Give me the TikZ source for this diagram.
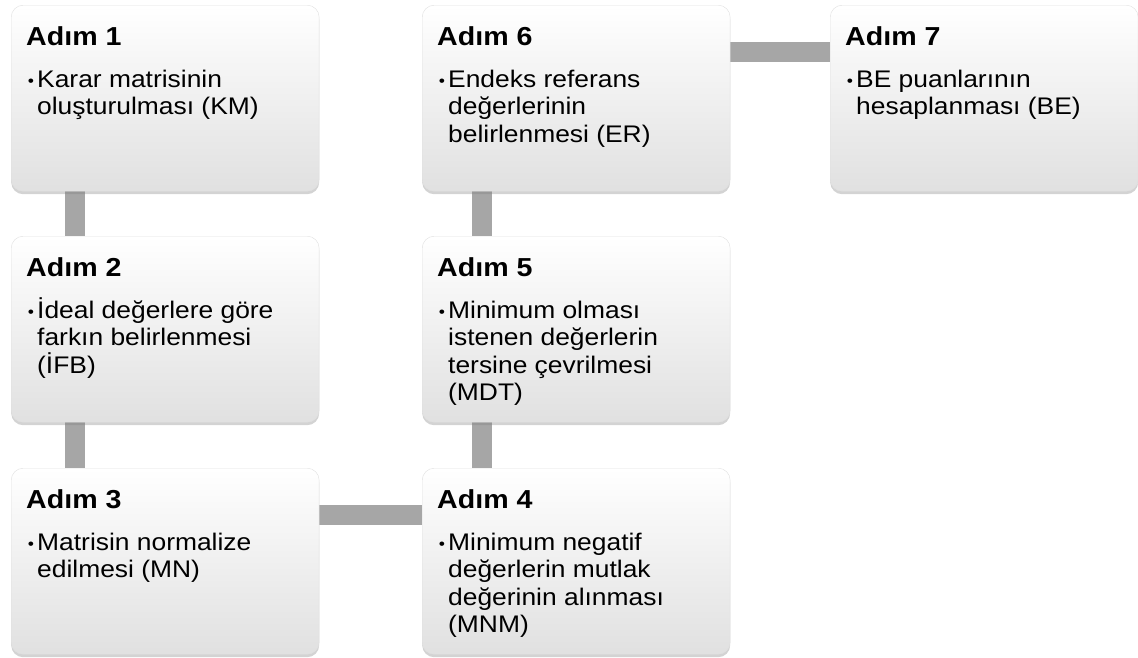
\documentclass[tikz,border=0pt]{standalone}
\usepackage{fontspec}
\setmainfont{Liberation Sans}
\usetikzlibrary{shadows}
\usetikzlibrary{backgrounds}

\tikzset{
  stepbox/.style={rectangle, rounded corners=12pt, draw=black!12,
    top color=white, bottom color=black!12,
    drop shadow={shadow xshift=0pt, shadow yshift=-3pt, opacity=0.35},
    inner xsep=15pt, inner ysep=21pt, anchor=north west},
  link/.style={line width=20pt, draw=black!35}
}

% title and one bullet, fixed box size, text a little wide
\newcommand{\steptext}[2]{\scalebox{1.1}[1]{\parbox[t][144pt][t]{252.7pt}{\parskip=0pt
  \fontsize{26}{30}\selectfont\bfseries #1\par
  \vspace{14.5pt}
  \fontsize{24}{27.5}\selectfont\mdseries
  \hangindent=10pt\hangafter=1\noindent
  \hspace*{1.5pt}\makebox[8.5pt][l]{\raisebox{1pt}{\fontsize{16}{16}\selectfont\textbullet}}#2\par}}}

\begin{document}
\begin{tikzpicture}[x=1pt, y=-1pt]
    \useasboundingbox (0,0) rectangle (1138,657);

    % steps
    \node[stepbox] (step1) at (11,5) {\steptext{Adım 1}{Karar matrisinin\\oluşturulması (KM)}};
    \node[stepbox] (step2) at (11,236) {\steptext{Adım 2}{İdeal değerlere göre\\farkın belirlenmesi\\(İFB)}};
    \node[stepbox] (step3) at (11,468) {\steptext{Adım 3}{Matrisin normalize\\edilmesi (MN)}};
    \node[stepbox] (step4) at (422,468) {\steptext{Adım 4}{Minimum negatif\\değerlerin mutlak\\değerinin alınması\\(MNM)}};
    \node[stepbox] (step5) at (422,236) {\steptext{Adım 5}{Minimum olması\\istenen değerlerin\\tersine çevrilmesi\\(MDT)}};
    \node[stepbox] (step6) at (422,5) {\steptext{Adım 6}{Endeks referans\\değerlerinin\\belirlenmesi (ER)}};
    \node[stepbox] (step7) at (830,5) {\steptext{Adım 7}{BE puanlarının\\hesaplanması (BE)}};

    % links behind the boxes
    \begin{scope}[on background layer]
        \draw[link] ([xshift=64pt]step1.south west) -- ([xshift=64pt]step2.north west);
        \draw[link] ([xshift=64pt]step2.south west) -- ([xshift=64pt]step3.north west);
        \draw[link] ([yshift=-47pt]step3.north east) -- ([yshift=-47pt]step4.north west);
        \draw[link] ([xshift=60pt]step4.north west) -- ([xshift=60pt]step5.south west);
        \draw[link] ([xshift=60pt]step5.north west) -- ([xshift=60pt]step6.south west);
        \draw[link] ([yshift=-47pt]step6.north east) -- ([yshift=-47pt]step7.north west);
    \end{scope}
\end{tikzpicture}
\end{document}
